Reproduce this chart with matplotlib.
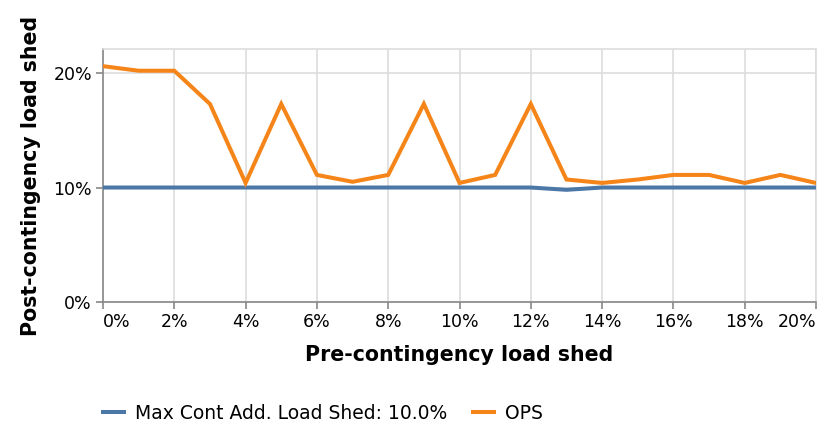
import numpy as np
import matplotlib
matplotlib.use("Agg")
import matplotlib.pyplot as plt
from matplotlib.ticker import FuncFormatter

# pre-contingency load shed (%), one point per percent
pre_shed = [0, 1, 2, 3, 4, 5, 6, 7, 8, 9, 10, 11, 12, 13, 14, 15, 16, 17, 18, 19, 20]

max_cont = [10.0, 10.0, 10.0, 10.0, 10.0, 10.0, 10.0, 10.0, 10.0, 10.0, 10.0,
            10.0, 10.0, 9.8, 10.0, 10.0, 10.0, 10.0, 10.0, 10.0, 10.0]
ops = [20.6, 20.2, 20.2, 17.3, 10.4, 17.3, 11.1, 10.5, 11.1, 17.3, 10.4,
       11.1, 17.3, 10.7, 10.4, 10.7, 11.1, 11.1, 10.4, 11.1, 10.4]

series_names = ["Max Cont Add. Load Shed: 10.0%", "OPS"]
x_ticks = [0, 2, 4, 6, 8, 10, 12, 14, 16, 18, 20]
y_ticks = [0, 10, 20]

blue = "#4c78a8"
orange = "#f58518"

fig = plt.figure(figsize=(8.3, 4.4), dpi=100)
ax = fig.add_axes([103 / 830, 1 - 302 / 440, (816 - 103) / 830, (302 - 49) / 440])

ax.plot(pre_shed, max_cont, color=blue, lw=2.9, label=series_names[0],
        solid_joinstyle="miter", zorder=3)
ax.plot(pre_shed, ops, color=orange, lw=2.9, label=series_names[1],
        solid_joinstyle="miter", zorder=3)

ax.set_xlim(0, 20)
ax.set_ylim(0, 22.1)
ax.set_xticks(x_ticks)
ax.set_yticks(y_ticks)
pct = FuncFormatter(lambda v, p: f"{v:.0f}%")
ax.xaxis.set_major_formatter(pct)
ax.yaxis.set_major_formatter(pct)

ax.grid(True, color="#dddddd", lw=1.2)
ax.set_axisbelow(True)
for side in ["top", "right"]:
    ax.spines[side].set_color("#dddddd")
    ax.spines[side].set_linewidth(1.2)
for side in ["left", "bottom"]:
    ax.spines[side].set_color("#888888")
    ax.spines[side].set_linewidth(1.2)
ax.tick_params(length=5, width=1.2, color="#888888", labelsize=12.5, pad=3)

labels = ax.get_xticklabels()
labels[0].set_horizontalalignment("left")
labels[-1].set_horizontalalignment("right")

ax.set_xlabel("Pre-contingency load shed", fontsize=14.8, fontweight="bold", labelpad=10)
ax.set_ylabel("Post-contingency load shed", fontsize=14.8, fontweight="bold", labelpad=9)

fig.legend(loc="center left", bbox_to_anchor=(103 / 830, 1 - 413 / 440), ncol=2,
           frameon=False, fontsize=13.5, handlelength=1.1, handletextpad=0.6,
           columnspacing=1.4, borderpad=0, borderaxespad=0)

fig.savefig("out.png", dpi=100)
